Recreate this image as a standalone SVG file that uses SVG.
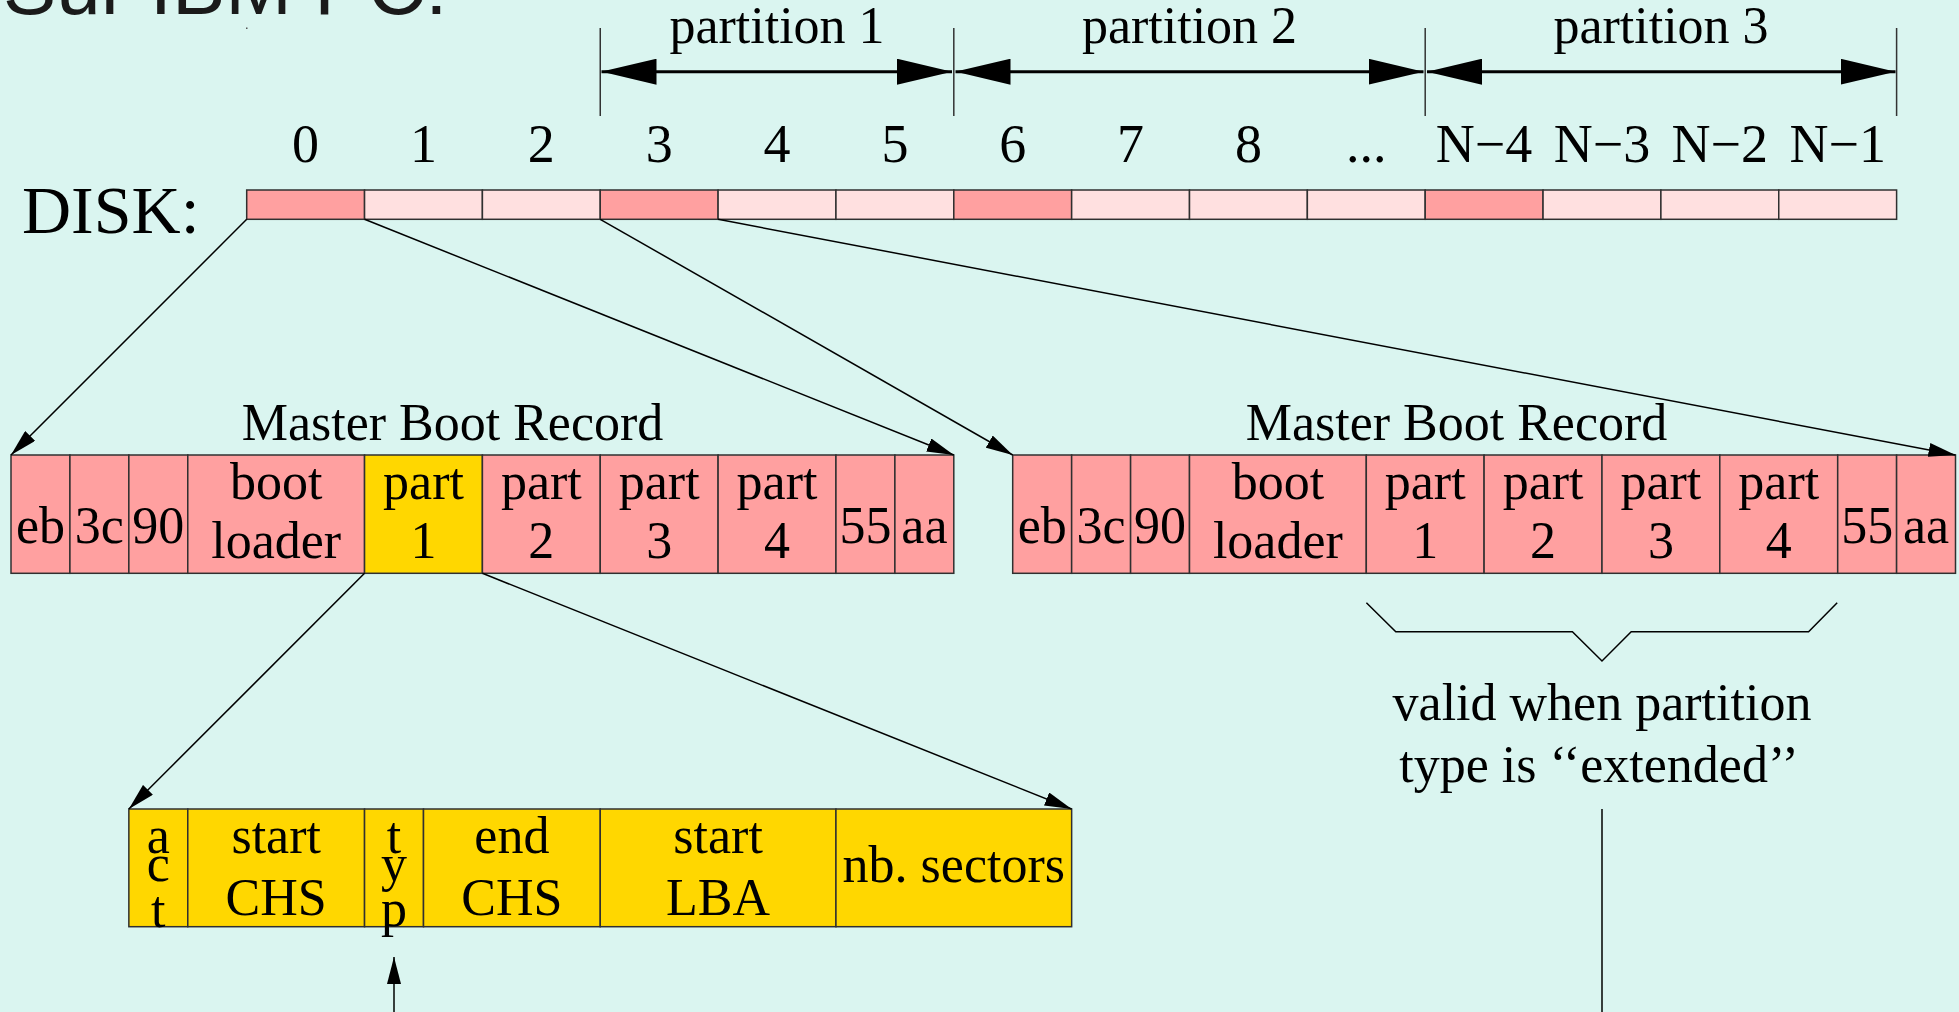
<svg xmlns="http://www.w3.org/2000/svg" width="1959" height="1012" viewBox="0 0 1959 1012">
<defs>
<style>
.t{font-family:"Liberation Serif","Times New Roman",serif;font-size:52px;fill:#000;text-anchor:middle}
.n{font-size:54px}
.c{stroke:#303030;stroke-width:1.5}
.dk{fill:#ffa0a0}
.lt{fill:#ffe0e0}
.ye{fill:#ffd700}
.ln{fill:none;stroke:#000;stroke-width:1.5}
.tick{stroke:#333;stroke-width:1.5}
.dim{stroke:#000;stroke-width:3;marker-start:url(#big);marker-end:url(#big)}
</style>
<marker id="ah" markerUnits="userSpaceOnUse" viewBox="0 0 27 14" refX="27" refY="7" markerWidth="27" markerHeight="14" orient="auto"><path d="M0,0 L27,7 L0,14 z" fill="#000"/></marker>
<marker id="big" markerUnits="userSpaceOnUse" viewBox="0 0 55 26" refX="55" refY="13" markerWidth="55" markerHeight="26" orient="auto-start-reverse"><path d="M0,0 L55,13 L0,26 z" fill="#000"/></marker>
</defs>
<rect x="0" y="0" width="1959" height="1012" fill="#daf5f0"/>

<g id="title">
<text x="3" y="14" style="font-family:'Liberation Sans',Arial,sans-serif;font-size:80px;fill:#1a1a1a">Sur IBM PC:</text>
<rect x="246" y="27.5" width="1.5" height="1.5" fill="#555"/>
</g>

<g id="partitions">
<line class="tick" x1="600.25" y1="28" x2="600.25" y2="116"/>
<line class="tick" x1="953.8" y1="28" x2="953.8" y2="116"/>
<line class="tick" x1="1425.2" y1="28" x2="1425.2" y2="116"/>
<line class="tick" x1="1896.6" y1="28" x2="1896.6" y2="116"/>
<line class="dim" x1="601.5" y1="71.7" x2="952" y2="71.7"/>
<line class="dim" x1="955.5" y1="71.7" x2="1423.5" y2="71.7"/>
<line class="dim" x1="1427" y1="71.7" x2="1895.5" y2="71.7"/>
<text class="t" x="777" y="43">partition 1</text>
<text class="t" x="1189.5" y="43">partition 2</text>
<text class="t" x="1661" y="43">partition 3</text>
</g>

<g id="disk">
<text class="t" x="22" y="233" style="font-size:68px;text-anchor:start">DISK:</text>
<g class="c">
<rect class="dk" x="246.7" y="190" width="117.85" height="29.3"/>
<rect class="lt" x="364.55" y="190" width="117.85" height="29.3"/>
<rect class="lt" x="482.4" y="190" width="117.85" height="29.3"/>
<rect class="dk" x="600.25" y="190" width="117.85" height="29.3"/>
<rect class="lt" x="718.1" y="190" width="117.85" height="29.3"/>
<rect class="lt" x="835.95" y="190" width="117.85" height="29.3"/>
<rect class="dk" x="953.8" y="190" width="117.85" height="29.3"/>
<rect class="lt" x="1071.65" y="190" width="117.85" height="29.3"/>
<rect class="lt" x="1189.5" y="190" width="117.85" height="29.3"/>
<rect class="lt" x="1307.35" y="190" width="117.85" height="29.3"/>
<rect class="dk" x="1425.2" y="190" width="117.85" height="29.3"/>
<rect class="lt" x="1543.05" y="190" width="117.85" height="29.3"/>
<rect class="lt" x="1660.9" y="190" width="117.85" height="29.3"/>
<rect class="lt" x="1778.75" y="190" width="117.85" height="29.3"/>
</g>
<g class="t n">
<text x="305.6" y="162">0</text>
<text x="423.5" y="162">1</text>
<text x="541.3" y="162">2</text>
<text x="659.2" y="162">3</text>
<text x="777" y="162">4</text>
<text x="894.9" y="162">5</text>
<text x="1012.7" y="162">6</text>
<text x="1130.6" y="162">7</text>
<text x="1248.4" y="162">8</text>
<text x="1366.3" y="162">...</text>
<text x="1484.1" y="162">N−4</text>
<text x="1602" y="162">N−3</text>
<text x="1719.8" y="162">N−2</text>
<text x="1837.7" y="162">N−1</text>
</g>
</g>

<g id="mbr1">
<text class="t" x="452.5" y="440">Master Boot Record</text>
<g class="c">
<rect class="dk" x="11" y="455" width="58.93" height="118.3"/>
<rect class="dk" x="69.93" y="455" width="58.92" height="118.3"/>
<rect class="dk" x="128.85" y="455" width="58.93" height="118.3"/>
<rect class="dk" x="187.78" y="455" width="176.77" height="118.3"/>
<rect class="ye" x="364.55" y="455" width="117.85" height="118.3"/>
<rect class="dk" x="482.4" y="455" width="117.85" height="118.3"/>
<rect class="dk" x="600.25" y="455" width="117.85" height="118.3"/>
<rect class="dk" x="718.1" y="455" width="117.85" height="118.3"/>
<rect class="dk" x="835.95" y="455" width="58.95" height="118.3"/>
<rect class="dk" x="894.9" y="455" width="58.9" height="118.3"/>
</g>
<g class="t">
<text x="40.5" y="543">eb</text>
<text x="99.4" y="543">3c</text>
<text x="158.3" y="543">90</text>
<text x="276.2" y="499">boot</text><text x="276.2" y="558">loader</text>
<text x="423.5" y="499">part</text><text x="423.5" y="558">1</text>
<text x="541.3" y="499">part</text><text x="541.3" y="558">2</text>
<text x="659.2" y="499">part</text><text x="659.2" y="558">3</text>
<text x="777" y="499">part</text><text x="777" y="558">4</text>
<text x="865.4" y="543">55</text>
<text x="924.4" y="543">aa</text>
</g>
</g>

<g id="mbr2">
<text class="t" x="1456.5" y="440">Master Boot Record</text>
<g class="c">
<rect class="dk" x="1012.7" y="455" width="58.95" height="118.3"/>
<rect class="dk" x="1071.65" y="455" width="58.95" height="118.3"/>
<rect class="dk" x="1130.6" y="455" width="58.9" height="118.3"/>
<rect class="dk" x="1189.5" y="455" width="176.8" height="118.3"/>
<rect class="dk" x="1366.3" y="455" width="117.8" height="118.3"/>
<rect class="dk" x="1484.1" y="455" width="117.9" height="118.3"/>
<rect class="dk" x="1602" y="455" width="117.8" height="118.3"/>
<rect class="dk" x="1719.8" y="455" width="117.9" height="118.3"/>
<rect class="dk" x="1837.7" y="455" width="58.9" height="118.3"/>
<rect class="dk" x="1896.6" y="455" width="58.9" height="118.3"/>
</g>
<g class="t">
<text x="1042.2" y="543">eb</text>
<text x="1101.1" y="543">3c</text>
<text x="1160" y="543">90</text>
<text x="1277.9" y="499">boot</text><text x="1277.9" y="558">loader</text>
<text x="1425.2" y="499">part</text><text x="1425.2" y="558">1</text>
<text x="1543.05" y="499">part</text><text x="1543.05" y="558">2</text>
<text x="1660.9" y="499">part</text><text x="1660.9" y="558">3</text>
<text x="1778.75" y="499">part</text><text x="1778.75" y="558">4</text>
<text x="1867.2" y="543">55</text>
<text x="1926" y="543">aa</text>
</g>
</g>

<g id="entry">
<g class="c ye">
<rect x="128.85" y="809" width="58.93" height="117.7"/>
<rect x="187.78" y="809" width="176.77" height="117.7"/>
<rect x="364.55" y="809" width="58.95" height="117.7"/>
<rect x="423.5" y="809" width="176.75" height="117.7"/>
<rect x="600.25" y="809" width="235.7" height="117.7"/>
<rect x="835.95" y="809" width="235.7" height="117.7"/>
</g>
<g class="t">
<text x="158.3" y="853">a</text><text x="158.3" y="881">c</text><text x="158.3" y="927">t</text>
<text x="276.2" y="853">start</text><text x="276.2" y="915">CHS</text>
<text x="394" y="853">t</text><text x="394" y="881">y</text><text x="394" y="926">p</text>
<text x="511.9" y="853">end</text><text x="511.9" y="915">CHS</text>
<text x="718.1" y="853">start</text><text x="718.1" y="915">LBA</text>
<text x="953.8" y="882">nb. sectors</text>
</g>
</g>

<g id="note">
<polyline class="ln" points="1366.4,602.7 1395.8,631.7 1572.4,631.7 1602,661 1631.2,631.7 1808.6,631.7 1837.2,602.7"/>
<text class="t" x="1602" y="720">valid when partition</text>
<text class="t" x="1599" y="782">type is ‘‘extended’’</text>
</g>

<g id="connectors" class="ln" style="marker-end:url(#ah)">
<line x1="246.7" y1="219.3" x2="11" y2="455"/>
<line x1="364.55" y1="219.3" x2="953.8" y2="455"/>
<line x1="600.25" y1="219.3" x2="1012.7" y2="455"/>
<line x1="718.1" y1="219.3" x2="1955.5" y2="455"/>
<line x1="364.55" y1="573.3" x2="128.85" y2="809"/>
<line x1="482.4" y1="573.3" x2="1071.65" y2="809"/>
<line x1="394" y1="1012" x2="394" y2="957"/>
<line x1="1602" y1="809" x2="1602" y2="1012" style="marker-end:none"/>
</g>
</svg>
